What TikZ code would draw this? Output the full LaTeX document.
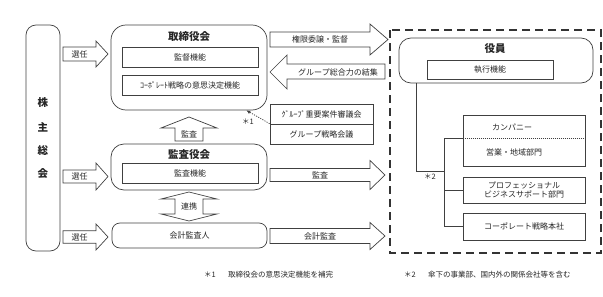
\documentclass[tikz,border=0pt]{standalone}
\usepackage{fontspec}
\setmainfont{Noto Sans CJK JP}
\usetikzlibrary{arrows.meta}
\newcommand\smallfs{\fontsize{8}{9.5}\selectfont}
\newcommand\notefs{\fontsize{7.5}{9}\selectfont}
\newcommand\titlefs{\fontsize{10.5}{12}\selectfont\bfseries}
\newcommand\rblk[8]{%
  \draw[blk] (#2,#5-#6) -- (#3,#5-#6) -- (#3,#5-#7) -- (#4,#5) -- (#3,#5+#7) -- (#3,#5+#6) -- (#2,#5+#6) -- cycle;
  \node[lbl] (#1) at ({(#2+#3)/2},#5) {#8};}
\tikzset{
  ln/.style={draw=black!75, line width=0.7pt},
  blk/.style={ln, fill=white},
  lbl/.style={font=\smallfs, text=black!85, inner sep=0pt},
  note/.style={font=\notefs, text=black!85, inner sep=0pt},
  ttl/.style={font=\titlefs, text=black!85, inner sep=0pt},
  ibox/.style={ln, rectangle, inner sep=0pt, font=\smallfs, text=black!85, align=center},
  bbox/.style={ln, rectangle, inner sep=0pt},
}
\begin{document}
\begin{tikzpicture}[x=1pt,y=-1pt]
\useasboundingbox (0,0) rectangle (603,297);
% shareholders
\node[bbox, rounded corners=10pt, minimum width=34pt, minimum height=226pt] (share) at (43,138) {};
\node[ttl] (s1) at (43,103) {株};
\node[ttl] (s2) at (43,127) {主};
\node[ttl] (s3) at (43,151) {総};
\node[ttl] (s4) at (43,174) {会};
% board of directors
\node[bbox, rounded corners=15pt, minimum width=156pt, minimum height=85pt] (tori) at (189,67.5) {};
\node[ttl] (toriT) at (189,37) {取締役会};
\node[ibox, minimum width=136pt, minimum height=20pt] (kantoku) at (190,57) {監督機能};
\node[ibox, minimum width=136pt, minimum height=20pt] (corpdec) at (190,85) {ｺｰﾎﾟﾚｰﾄ戦略の意思決定機能};
% audit board
\node[bbox, rounded corners=13pt, minimum width=156pt, minimum height=46pt] (kansa) at (189,167) {};
\node[ttl] (kansaT) at (189,155) {監査役会};
\node[ibox, minimum width=136pt, minimum height=20pt] (kansafn) at (190,173) {監査機能};
% accounting auditor
\node[ibox, rounded corners=8pt, minimum width=155pt, minimum height=25pt] (kaikei) at (189.5,235.5) {会計監査人};
% election arrows
\rblk{sen1}{63}{96}{108}{54}{7}{13}{選任}
\rblk{sen2}{63}{96}{108}{176.5}{6.5}{13.5}{選任}
\rblk{sen3}{63}{96}{108}{237}{6.3}{13}{選任}
% up arrow
\draw[blk] (175,141) -- (175,128) -- (161,128) -- (189,117) -- (217,128) -- (203,128) -- (203,141) -- cycle;
\node[lbl] (upl) at (189,134) {監査};
% double arrow
\draw[blk] (175,199) -- (161,199) -- (189,192) -- (217,199) -- (203,199) -- (203,214) -- (217,214) -- (189,221) -- (161,214) -- (175,214) -- cycle;
\node[lbl] (renkei) at (189,206.5) {連携};
% right side arrows
\rblk{kengen}{270}{370}{388}{39.5}{7.5}{15.5}{権限委譲・監督}
\draw[blk] (385,64) -- (287,64) -- (287,55) -- (270,72) -- (287,89) -- (287,79) -- (385,79) -- cycle;
\node[lbl] (group) at (338,72) {グループ総合力の結集};
\rblk{kansaA}{270}{370}{385}{175}{6.5}{14.5}{監査}
\rblk{kaikeiA}{270}{370}{385}{236}{7.5}{13.5}{会計監査}
% group committees
\node[ibox, minimum width=103pt, minimum height=20pt] (grp1) at (321.5,114) {ｸﾞﾙｰﾌﾟ重要案件審議会};
\node[ibox, minimum width=103pt, minimum height=20pt] (grp2) at (321.5,134) {グループ戦略会議};
\draw[ln, dash pattern=on 1.2pt off 1.2pt, -{Latex[length=4pt,width=3.5pt]}] (grp2.north west) -- ([xshift=-21pt]tori.south east);
\node[note] (n1) at (248,122) {＊1};
% executive area
\draw[black!80, line width=2pt, dash pattern=on 8pt off 5pt] (390,30) rectangle (601,253);
\node[bbox, rounded corners=12pt, minimum width=194pt, minimum height=45pt] (yakuin) at (496,60.5) {};
\node[ttl] (yakuinT) at (495,49) {役員};
\node[ibox, minimum width=126pt, minimum height=19pt] (shikko) at (490,69.5) {執行機能};
\node[ibox, minimum width=122pt, minimum height=51pt] (comp) at (524,140.5) {};
\node[lbl] (compT) at (512,127) {カンパニー};
\node[lbl] (eigyo) at (514,152) {営業・地域部門};
\node[ibox, minimum width=122pt, minimum height=26pt] (prof) at (524,190) {プロフェッショナル\\ビジネスサポート部門};
\node[ibox, minimum width=122pt, minimum height=27pt] (corp) at (524,226.5) {コーポレート戦略本社};
\coordinate (j) at (444,171);
\coordinate (t1) at (444,138);
\coordinate (t3) at (444,226.5);
\draw[ln] ([xshift=18pt]yakuin.south west) |- (j);
\draw[ln] (t1) -- (t3);
\draw[ln] (t1) -- (t1 -| comp.west);
\draw[ln] (t1 |- prof.west) -- (prof.west);
\draw[ln] (t3) -- (corp.west);
\draw[black!75, line width=0.6pt, dash pattern=on 1pt off 1pt] (t1 -| comp.west) -- (t1 -| comp.east);
\node[note] (n2) at (430,177) {＊2};
% footnotes
\node[note] (f1) at (210,275) {＊1};
\node[note, anchor=west] (f1t) at (228,275) {取締役会の意思決定機能を補完};
\node[note] (f2) at (410,275) {＊2};
\node[note, anchor=west] (f2t) at (428,275) {傘下の事業部、国内外の関係会社等を含む};
\end{tikzpicture}
\end{document}
